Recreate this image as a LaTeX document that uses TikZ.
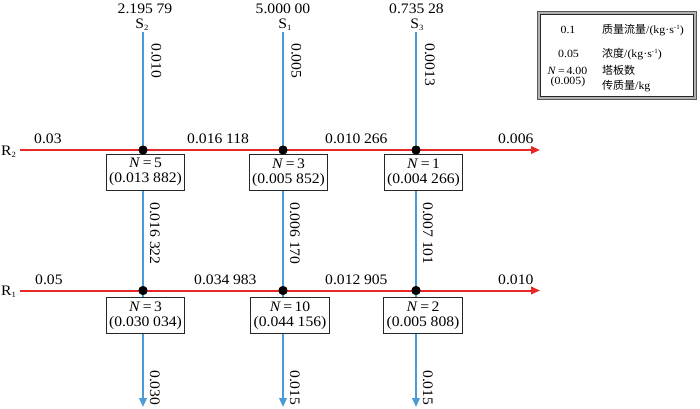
\documentclass[tikz,border=0pt]{standalone}
\usepackage{fontspec}
\setmainfont{Liberation Serif}[FakeStretch=1.08]
\newfontfamily\cjk{Noto Sans CJK SC}
\usetikzlibrary{arrows.meta}
\definecolor{flowblue}{RGB}{74,155,214}
\definecolor{flowred}{RGB}{232,40,36}
\newcommand\mysub[1]{\raisebox{-0.35ex}{\fontsize{8}{8}\selectfont #1}}
\newcommand\mysup[1]{\raisebox{0.75ex}{\fontsize{6.5}{6.5}\selectfont #1}}
\newcommand\gap{\kern0.25em}
\tikzset{
  flowR/.style={draw=flowred, line width=2pt},
  flowB/.style={draw=flowblue, line width=2pt},
  tipR/.style={-{Triangle[length=9pt,width=7.5pt]}},
  junct/.style={circle, fill=black, inner sep=0pt, minimum size=9pt},
  stagebox/.style={draw=black!85, line width=0.9pt, fill=white, align=center,
    font=\fontsize{14.5}{15}\selectfont, inner xsep=3pt, inner ysep=4pt, anchor=north},
  num/.style={font=\fontsize{14.5}{15}\selectfont, inner sep=0pt},
  hlab/.style={num, anchor=base west},
  vlab/.style={num, rotate=-90, anchor=base west},
  toplab/.style={num, anchor=base},
  leg/.style={font=\fontsize{11}{12}\selectfont, inner sep=0pt},
}
\begin{document}
\begin{tikzpicture}[x=1pt,y=-1pt]
\useasboundingbox (0,0) rectangle (700,408);
% coordinates of stream ends
\coordinate (s2top) at (143,32);
\coordinate (s1top) at (283,32);
\coordinate (s3top) at (416,32);
\coordinate (s2end) at (143,407);
\coordinate (s1end) at (283,407);
\coordinate (s3end) at (416,407);
\coordinate (r2start) at (20,150);
\coordinate (r2end) at (540,150);
\coordinate (r1start) at (20,290.5);
\coordinate (r1end) at (540,290.5);
% junctions
\node[junct] (j22) at (143,150) {};
\node[junct] (j12) at (283,150) {};
\node[junct] (j32) at (416,150) {};
\node[junct] (j21) at (143,290.5) {};
\node[junct] (j11) at (283,290.5) {};
\node[junct] (j31) at (416,290.5) {};
% red streams
\draw[flowR, tipR] (r2start) -- (j22.center) -- (j12.center) -- (j32.center) -- (r2end);
\draw[flowR, tipR] (r1start) -- (j21.center) -- (j11.center) -- (j31.center) -- (r1end);
% blue streams
\draw[flowB] (s2top) -- (j22.center) -- (j21.center);
\draw[flowB] (s1top) -- (j12.center) -- (j11.center);
\draw[flowB] (s3top) -- (j32.center) -- (j31.center);
\draw[flowB, tipR] (j21.center) -- (s2end);
\draw[flowB, tipR] (j11.center) -- (s1end);
\draw[flowB, tipR] (j31.center) -- (s3end);
% boxes
\node[stagebox] (b22) at (145.5,154) {\textit{N}\,=\,5\\(0.013\gap882)};
\node[stagebox] (b12) at (288.5,154) {\textit{N}\,=\,3\\(0.005\gap852)};
\node[stagebox] (b32) at (423.5,154) {\textit{N}\,=\,1\\(0.004\gap266)};
\node[stagebox] (b21) at (145.5,297) {\textit{N}\,=\,3\\(0.030\gap034)};
\node[stagebox] (b11) at (290,297) {\textit{N}\,=\,10\\(0.044\gap156)};
\node[stagebox] (b31) at (423,297) {\textit{N}\,=\,2\\(0.005\gap808)};
% redraw junctions on top
\node[junct] at (j22) {};
\node[junct] at (j12) {};
\node[junct] at (j32) {};
\node[junct] at (j21) {};
\node[junct] at (j11) {};
\node[junct] at (j31) {};
% top labels
\node[toplab] (c2) at (145,13) {2.195\gap79};
\node[toplab] (c1) at (283,13) {5.000\gap00};
\node[toplab] (c3) at (416.5,13) {0.735\gap28};
\node[toplab] (n2) at (142,28.5) {S\mysub{2}};
\node[toplab] (n1) at (285,28.5) {S\mysub{1}};
\node[toplab] (n3) at (417,28.5) {S\mysub{3}};
\node[hlab] (nr2) at (1,155) {R\mysub{2}};
\node[hlab] (nr1) at (1,295.5) {R\mysub{1}};
% vertical labels
\node[vlab] (v21) at (151.5,43) {0.010};
\node[vlab] (v22) at (291.5,43) {0.005};
\node[vlab] (v23) at (425,43) {0.0013};
\node[vlab] (v11) at (150,202) {0.016\gap322};
\node[vlab] (v12) at (290,202) {0.006\gap170};
\node[vlab] (v13) at (423,202) {0.007\gap101};
\node[vlab] (v01) at (150,370) {0.030};
\node[vlab] (v02) at (290,370) {0.015};
\node[vlab] (v03) at (423,370) {0.015};
% horizontal labels
\node[hlab] (h21) at (34,143.5) {0.03};
\node[hlab] (h22) at (187,143.5) {0.016\gap118};
\node[hlab] (h23) at (325,143.5) {0.010\gap266};
\node[hlab] (h24) at (498,143.5) {0.006};
\node[hlab] (h11) at (35,284) {0.05};
\node[hlab] (h12) at (194,284) {0.034\gap983};
\node[hlab] (h13) at (325,284) {0.012\gap905};
\node[hlab] (h14) at (498,284) {0.010};
% legend
\draw[line width=3pt, black!30] (539,12.5) rectangle (695,98);
\draw[line width=0.6pt, black!65] (537.5,11) rectangle (696.5,99.5);
\draw[line width=0.8pt, black!85] (540.5,14) rectangle (693.5,96.5);
\node[leg, anchor=base] (l1) at (568,33) {0.1};
\node[leg, anchor=base west] (l1t) at (602,33) {{\cjk 质量流量}/(kg·s\mysup{-1})};
\node[leg, anchor=base] (l2) at (568.5,57) {0.05};
\node[leg, anchor=base west] (l2t) at (602,57) {{\cjk 浓度}/(kg·s\mysup{-1})};
\node[leg, anchor=base] (l3) at (567.5,74.5) {\textit{N}\,=\,4.00};
\node[leg, anchor=base west] (l3t) at (602,74.5) {\cjk 塔板数};
\node[leg, anchor=base] (l4) at (568,84) {(0.005)};
\node[leg, anchor=base west] (l4t) at (602,89.5) {{\cjk 传质量}/kg};
\end{tikzpicture}
\end{document}
